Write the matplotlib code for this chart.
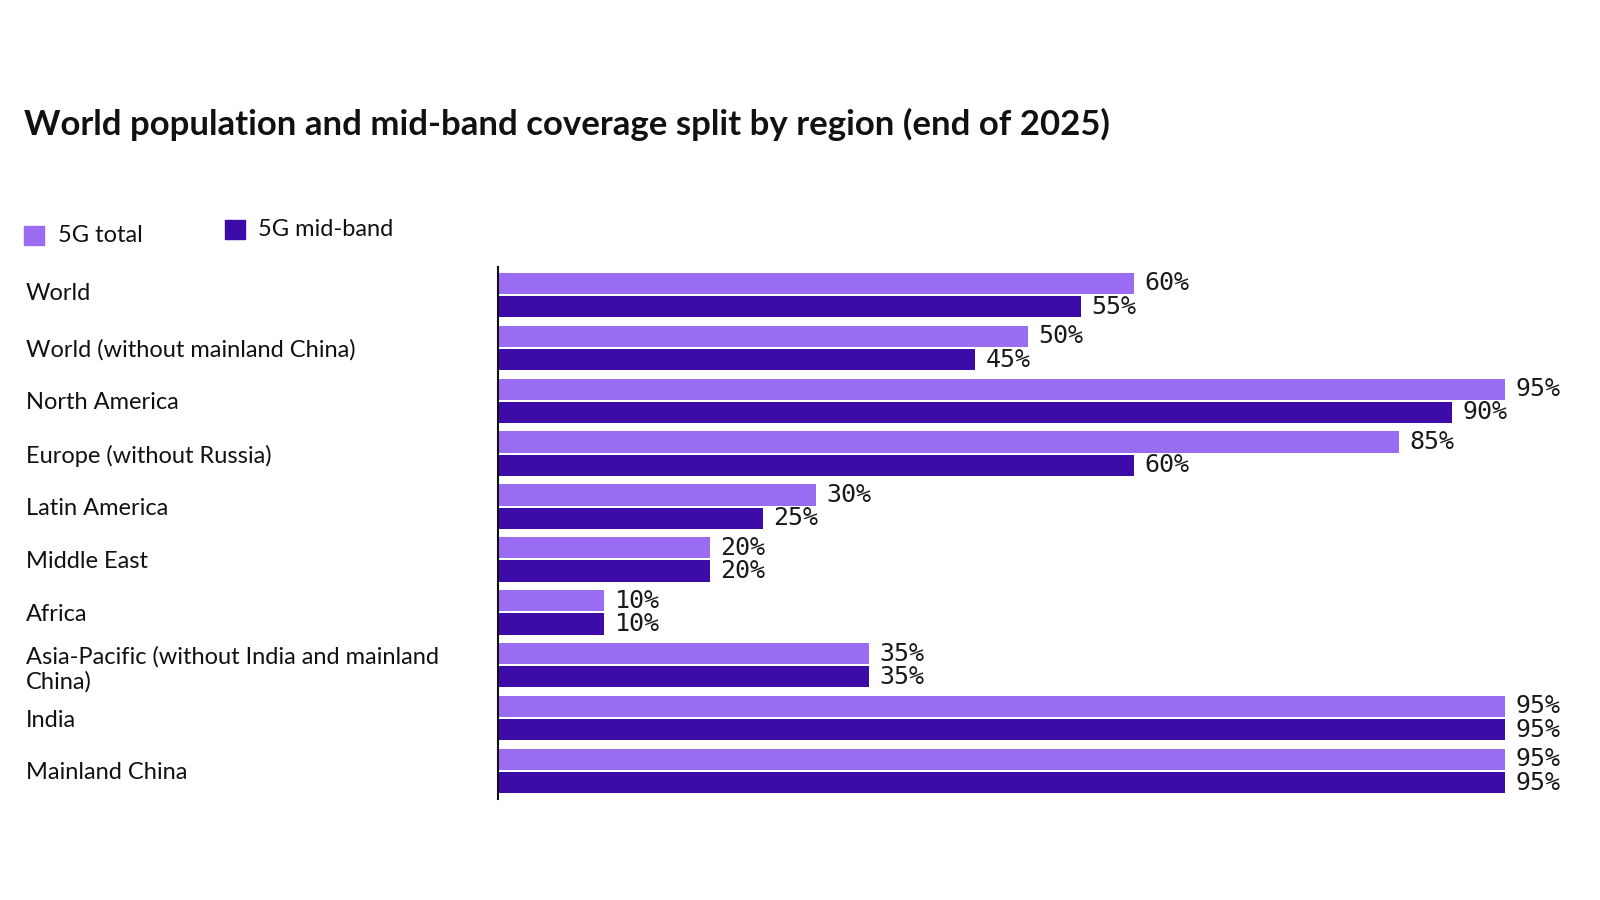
import matplotlib
matplotlib.use("Agg")
import matplotlib.pyplot as plt
import matplotlib.transforms as mtransforms
import numpy as np
from matplotlib.patches import Rectangle

# data
regions = [
    "World",
    "World (without mainland China)",
    "North America",
    "Europe (without Russia)",
    "Latin America",
    "Middle East",
    "Africa",
    "Asia-Pacific (without India and mainland\nChina)",
    "India",
    "Mainland China",
]
total_5g = [60, 50, 95, 85, 30, 20, 10, 35, 95, 95]
midband_5g = [55, 45, 90, 60, 25, 20, 10, 35, 95, 95]

light = "#9a6cf2"
dark = "#3d0ca8"

plt.rcParams["font.family"] = ["Lato", "DejaVu Sans"]

fig = plt.figure(figsize=(16, 9), dpi=100)
ax = fig.add_axes([498 / 1600, 1 - 799 / 900, 1060 / 1600, 532 / 900])

y = np.arange(len(regions))
off = 0.22
h = 0.40
ax.barh(y - off, total_5g, height=h, color=light)
ax.barh(y + off, midband_5g, height=h, color=dark)

# value labels
for yi, v in zip(y, total_5g):
    ax.text(v + 1.0, yi - off, f"{v}%", va="center", ha="left",
            family="DejaVu Sans Mono", fontsize=18, color="#1a1a1a")
for yi, v in zip(y, midband_5g):
    ax.text(v + 1.0, yi + off, f"{v}%", va="center", ha="left",
            family="DejaVu Sans Mono", fontsize=18, color="#1a1a1a")

ax.set_xlim(0, 100)
ax.set_ylim(len(regions) - 0.47, -0.53)
ax.set_yticks(y)
ax.set_yticklabels(regions, fontsize=17, color="#111111")
ax.tick_params(axis="y", length=0, pad=472 * 72 / 100)
for lab in ax.get_yticklabels():
    lab.set_horizontalalignment("left")
    lab.set_multialignment("left")
# "World" sits a little higher in the original
w = ax.get_yticklabels()[0]
w.set_transform(w.get_transform() + mtransforms.ScaledTranslation(0, 4 / 100, fig.dpi_scale_trans))
ax.set_xticks([])
for s in ["top", "right", "bottom"]:
    ax.spines[s].set_visible(False)
ax.spines["left"].set_linewidth(1.5)
ax.spines["left"].set_color("#111111")

# title
fig.text(24 / 1600, 1 - 124 / 900,
         "World population and mid-band coverage split by region (end of 2025)",
         fontsize=25, fontweight="bold", va="center", ha="left", color="#111111")

# legend
fig.patches.append(Rectangle((24 / 1600, 1 - 245 / 900), 20 / 1600, 19 / 900,
                             transform=fig.transFigure, color=light))
fig.text(58 / 1600, 1 - 235 / 900, "5G total", fontsize=17, va="center", color="#111111")
fig.patches.append(Rectangle((225 / 1600, 1 - 239 / 900), 20 / 1600, 19 / 900,
                             transform=fig.transFigure, color=dark))
fig.text(258 / 1600, 1 - 229 / 900, "5G mid-band", fontsize=17, va="center", color="#111111")

fig.savefig("out.png", dpi=100)
